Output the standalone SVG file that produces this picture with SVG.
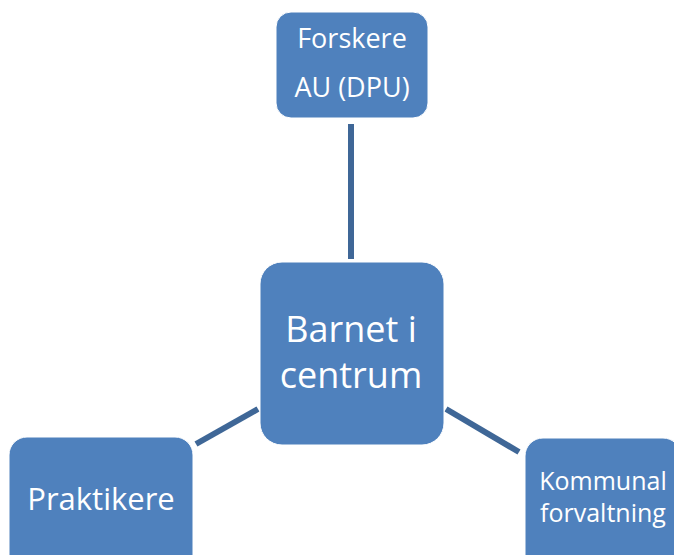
<svg xmlns="http://www.w3.org/2000/svg" width="674" height="555" viewBox="0 0 674 555">
<style>
.box{fill:#4F81BD;stroke:#ffffff;stroke-width:1}
.lbl{fill:#ffffff;font-family:"Open Sans","Liberation Sans",sans-serif;text-anchor:middle}
.conn{stroke:#3F6797;stroke-width:6;fill:none}
</style>
<rect width="674" height="555" fill="#ffffff"/>
<g id="connectors">
<line class="conn" x1="351" y1="124" x2="351" y2="259"/>
<line class="conn" x1="196" y1="444" x2="258" y2="409"/>
<line class="conn" x1="446" y1="409" x2="519" y2="452"/>
</g>
<g id="forskere">
<rect class="box" x="276" y="12" width="152" height="106" rx="15"/>
<text class="lbl" x="352" y="48" font-size="27">Forskere</text>
<text class="lbl" x="352" y="97" font-size="27">AU (DPU)</text>
</g>
<g id="barnet">
<rect class="box" x="260" y="262" width="184" height="183" rx="22"/>
<text class="lbl" x="351" y="342" font-size="36">Barnet i</text>
<text class="lbl" x="351" y="388" font-size="36">centrum</text>
</g>
<g id="praktikere">
<rect class="box" x="9" y="437" width="184" height="150" rx="18"/>
<text class="lbl" x="101" y="510" font-size="31">Praktikere</text>
</g>
<g id="kommunal">
<rect class="box" x="525" y="438" width="156" height="150" rx="18"/>
<text class="lbl" x="603" y="490" font-size="25">Kommunal</text>
<text class="lbl" x="603" y="522" font-size="25">forvaltning</text>
</g>
</svg>
